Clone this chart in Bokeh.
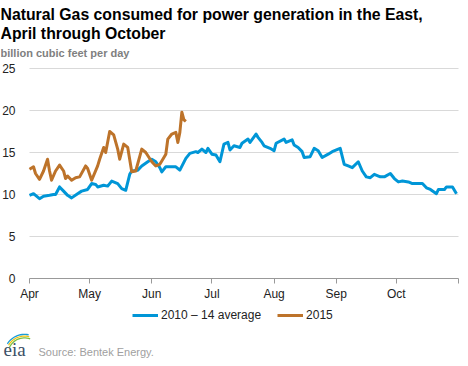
import numpy as np
import pandas as pd
from bokeh.plotting import figure
from bokeh.models import Range1d, FixedTicker, Label, Legend, LegendItem, ColumnDataSource, PolyAnnotation
from bokeh.embed import file_html
from bokeh.resources import INLINE

# ---------------- data ----------------
avg_dates = ["04-01", "04-03", "04-06", "04-08", "04-11", "04-13", "04-14", "04-16", "04-18", "04-20",
             "04-22", "04-25", "04-27", "04-30", "05-02", "05-04", "05-05", "05-08", "05-10", "05-12",
             "05-15", "05-17", "05-19", "05-21", "05-22", "05-25", "05-27", "05-30", "06-01", "06-03",
             "06-05", "06-06", "06-08", "06-11", "06-13", "06-15", "06-18", "06-20", "06-23", "06-24",
             "06-26", "06-28", "06-29", "07-01", "07-03", "07-05", "07-07", "07-09", "07-10", "07-12",
             "07-15", "07-16", "07-19", "07-20", "07-23", "07-24", "07-26", "07-27", "07-30", "08-01",
             "08-02", "08-06", "08-07", "08-10", "08-11", "08-13", "08-15", "08-16", "08-19", "08-21",
             "08-23", "08-25", "08-28", "08-30", "09-02", "09-03", "09-05", "09-07", "09-09", "09-12",
             "09-14", "09-16", "09-18", "09-20", "09-23", "09-25", "09-28", "09-30", "10-02", "10-04",
             "10-07", "10-09", "10-11", "10-14", "10-16", "10-18", "10-21", "10-22", "10-25", "10-26",
             "10-29", "10-31"]
avg_values = [9.9, 10.1, 9.5, 9.8, 9.9, 10.0, 10.0, 10.9, 10.4, 9.9,
              9.6, 10.1, 10.4, 10.6, 11.3, 11.2, 10.9, 11.1, 11.0, 11.6,
              11.3, 10.7, 10.5, 12.4, 12.8, 12.9, 13.4, 13.9, 14.2, 13.9,
              13.2, 12.7, 13.3, 13.3, 13.3, 12.9, 14.3, 14.9, 15.1, 15.0,
              15.4, 15.0, 15.5, 14.8, 14.7, 13.9, 16.0, 16.2, 15.3, 15.8,
              15.6, 16.1, 16.6, 16.2, 17.2, 16.8, 16.2, 15.8, 15.5, 15.2,
              16.1, 16.6, 16.2, 16.5, 15.9, 15.6, 15.1, 14.4, 14.5, 15.5,
              15.2, 14.4, 14.8, 15.1, 15.4, 15.5, 13.6, 13.4, 13.2, 13.9,
              12.8, 12.1, 12.0, 12.4, 12.1, 12.1, 12.5, 11.9, 11.5, 11.6,
              11.5, 11.3, 11.3, 11.3, 10.8, 10.6, 10.1, 10.6, 10.6, 10.9,
              10.9, 10.1]

y2015_dates = ["04-01", "04-03", "04-04", "04-06", "04-08", "04-10", "04-11", "04-12", "04-14", "04-16",
               "04-18", "04-19", "04-20", "04-22", "04-24", "04-26", "04-29", "04-30", "05-02", "05-05",
               "05-06", "05-08", "05-09", "05-11", "05-13", "05-15", "05-16", "05-18", "05-20", "05-22",
               "05-24", "05-27", "05-29", "06-01", "06-03", "06-05", "06-06", "06-08", "06-09", "06-11",
               "06-13", "06-14", "06-15", "06-16", "06-17", "06-18"]
y2015_values = [13.0, 13.3, 12.5, 11.8, 12.8, 14.2, 12.8, 11.7, 12.8, 13.5,
                12.8, 11.9, 12.2, 11.7, 12.0, 12.1, 13.4, 13.1, 11.7, 13.4,
                14.2, 15.6, 15.0, 17.5, 17.1, 15.4, 14.2, 16.0, 15.6, 12.7,
                12.8, 15.4, 15.0, 13.9, 13.4, 13.6, 14.0, 14.8, 16.6, 17.2,
                17.4, 16.2, 17.4, 19.8, 18.9, 18.7]

month_ticks = ["04-01", "05-01", "06-01", "07-01", "08-01", "09-01", "10-01", "11-01"]
month_labels = ["Apr", "May", "Jun", "Jul", "Aug", "Sep", "Oct", ""]
y_ticks = [0, 5, 10, 15, 20, 25]

series_names = ["2010 \u2013 14 average", "2015"]
title_lines = ["Natural Gas consumed for power generation in the East,", "April through October"]
unit_text = "billion cubic feet per day"
source_text = "Source:  Bentek Energy."

BLUE = "#0096d7"
BROWN = "#bd732a"
FONT = "Liberation Sans"


def to_dt(md):
    return pd.to_datetime(["2015-" + s for s in md])


def to_ms(md):
    return [int(v) // 10**6 for v in to_dt(md).astype("int64")]


tick_ms = to_ms(month_ticks)

# ---------------- layout (pixels on the canvas) ----------------
W, H = 460, 358
PL, PR, PT, PB = 29, 458, 68, 278          # plot area edges inside the canvas
ms_per_px = (tick_ms[-1] - tick_ms[0]) / (PR - PL)
val_per_px = (y_ticks[-1] - y_ticks[0]) / (PB - PT)
x_start = tick_ms[0] - PL * ms_per_px
x_end = tick_ms[-1] + (W - PR) * ms_per_px
y_start = y_ticks[0] - (H - PB) * val_per_px
y_end = y_ticks[-1] + PT * val_per_px

p = figure(width=W, height=H, output_backend="svg", toolbar_location=None, title=None,
           x_axis_type="datetime",
           x_range=Range1d(x_start, x_end), y_range=Range1d(y_start, y_end),
           min_border_left=0, min_border_right=0, min_border_top=0, min_border_bottom=0)
p.outline_line_color = None
p.background_fill_color = "white"
p.border_fill_color = "white"
p.xgrid.visible = False
p.ygrid.visible = False

# horizontal grid lines limited to the plot area
grid_src = ColumnDataSource(dict(x0=[tick_ms[0]] * (len(y_ticks) - 1), x1=[tick_ms[-1]] * (len(y_ticks) - 1),
                                 y=y_ticks[1:]))
p.segment(x0="x0", y0="y", x1="x1", y1="y", source=grid_src, line_color="#d9d9d9", line_width=1)

src_avg = ColumnDataSource(dict(x=to_dt(avg_dates), y=avg_values))
src_15 = ColumnDataSource(dict(x=to_dt(y2015_dates), y=y2015_values))
r1 = p.line("x", "y", source=src_avg, line_color=BLUE, line_width=3, line_join="round")
r2 = p.line("x", "y", source=src_15, line_color=BROWN, line_width=3, line_join="round")

# axes
xa = p.xaxis[0]
xa.fixed_location = y_ticks[0]
xa.bounds = (tick_ms[0], tick_ms[-1])
xa.ticker = FixedTicker(ticks=tick_ms)
xa.major_label_overrides = {t: lab for t, lab in zip(tick_ms, month_labels)}
xa.axis_line_color = "#999999"
xa.major_tick_line_color = "#999999"
xa.major_tick_out = 5
xa.major_tick_in = 0
xa.minor_tick_line_color = None
xa.minor_tick_out = 0
xa.minor_tick_in = 0
xa.major_label_standoff = 3
xa.major_label_text_font = FONT
xa.major_label_text_font_size = "12px"
xa.major_label_text_color = "#222222"

ya = p.yaxis[0]
ya.fixed_location = tick_ms[0]
ya.bounds = (y_ticks[0], y_ticks[-1])
ya.ticker = FixedTicker(ticks=y_ticks)
ya.axis_line_color = None
ya.major_tick_line_color = None
ya.minor_tick_line_color = None
ya.major_tick_out = 0
ya.major_tick_in = 0
ya.minor_tick_out = 0
ya.minor_tick_in = 0
ya.major_label_standoff = 14
ya.major_label_text_font = FONT
ya.major_label_text_font_size = "12px"
ya.major_label_text_color = "#222222"

# legend (below the axis)
legend = Legend(items=[LegendItem(label=series_names[0], renderers=[r1]),
                       LegendItem(label=series_names[1], renderers=[r2])],
                orientation="horizontal", location=(132, H - 322),
                background_fill_alpha=0, border_line_alpha=0,
                padding=0, margin=0, spacing=16, label_standoff=3,
                glyph_width=26, glyph_height=12, label_height=12,
                label_text_font=FONT, label_text_font_size="12px",
                label_text_color="#222222")
p.add_layout(legend, "center")


def add_text(txt, cx, cy, size, color, style="normal", font=FONT):
    p.add_layout(Label(x=cx, y=H - cy, x_units="screen", y_units="screen", text=txt,
                       text_font=font, text_font_size=size, text_color=color,
                       text_font_style=style, text_baseline="alphabetic", text_align="left"))


add_text(title_lines[0], 0, 14, "15.8px", "#000000", "bold")
add_text(title_lines[1], 0, 33, "15.8px", "#000000", "bold")
add_text(unit_text, 0, 52, "11px", "#808080", "bold")

# eia logo: swoosh bands above the letters (decoration, screen pixels)
def swoosh(cx, cy, r_in, r_out, a0, a1, color):
    a = np.linspace(np.radians(a0), np.radians(a1), 16)
    xs = list(cx + r_out * np.cos(a)) + list(cx + r_in * np.cos(a[::-1]))
    ys = list(cy + r_out * np.sin(a)) + list(cy + r_in * np.sin(a[::-1]))
    p.add_layout(PolyAnnotation(xs=xs, ys=[H - v for v in ys], xs_units="screen", ys_units="screen",
                                fill_color=color, fill_alpha=1, line_color=None))


swoosh(24, 354, 16.0, 17.3, 205, 290, "#7bbf45")
swoosh(24, 354, 17.8, 19.0, 210, 285, "#f1c40f")
swoosh(24, 354, 19.5, 20.8, 212, 282, "#1a9bd7")
add_text("eia", 3, 349, "19px", "#3c4f66", "normal", "Liberation Serif")
add_text(source_text, 38, 351, "11px", "#a0a0a0")

open("out.html", "w").write(file_html(p, INLINE))
